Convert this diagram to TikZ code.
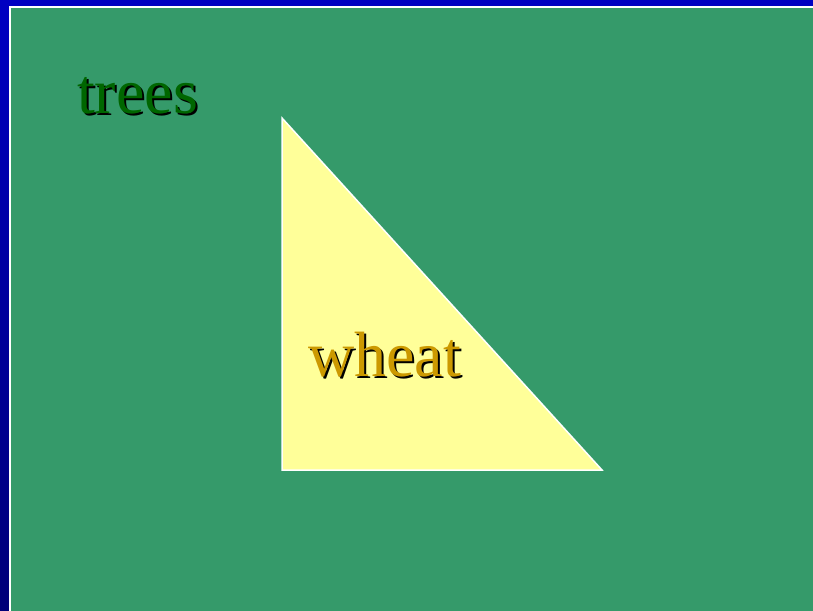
\documentclass[tikz,border=0pt]{standalone}
\usepackage{fontspec}
\setmainfont{Liberation Serif}
\definecolor{bgreen}{RGB}{53,154,106}
\definecolor{topblue}{RGB}{0,0,194}
\definecolor{botblue}{RGB}{0,0,120}
\definecolor{wheatfill}{RGB}{255,255,153}
\definecolor{treegreen}{RGB}{0,102,0}
\definecolor{wheatgold}{RGB}{204,153,0}
\tikzset{
  lbl/.style={anchor=base west, font=\fontsize{64}{70}\selectfont, inner sep=0pt},
}
\begin{document}
\begin{tikzpicture}[x=1pt,y=-1pt]
\useasboundingbox (0,0) rectangle (813,610);
\shade[top color=topblue, bottom color=botblue] (0,0) rectangle (815,612);
\fill[white] (9,6) rectangle (815,612);
\fill[bgreen] (11,8) rectangle (815,612);
\coordinate (t1) at (282,118);
\coordinate (t2) at (282,470);
\coordinate (t3) at (602,470);
\draw[white, line width=1.5pt, fill=wheatfill] (t1) -- (t2) -- (t3) -- cycle;
\node[lbl, text=black] (treesshadow) at (79,115) {trees};
\node[lbl, text=treegreen] (trees) at (77,113) {trees};
\node[lbl, text=black] (wheatshadow) at (310,378) {wheat};
\node[lbl, text=wheatgold] (wheat) at (308,376) {wheat};
\end{tikzpicture}
\end{document}
